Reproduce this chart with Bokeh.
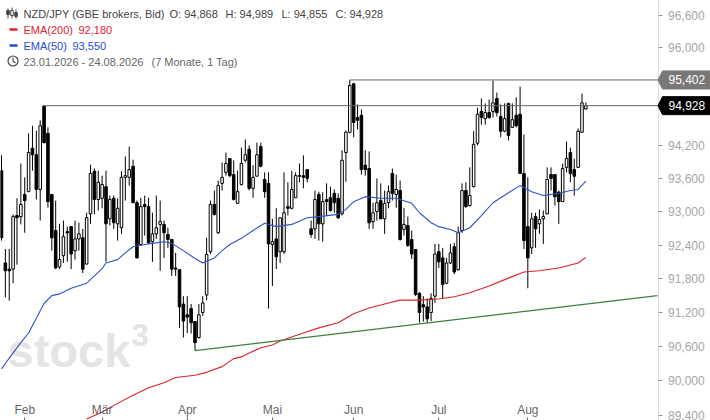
import math
from bokeh.plotting import figure
from bokeh.embed import file_html
from bokeh.resources import INLINE
from bokeh.models import FixedTicker, CustomJSTickFormatter, Label, ColumnDataSource
from bokeh.core.properties import value

highs = [94.02,92.33,92.33,92.95,93.24,93.87,93.62,94.42,94.56,94.47,
94.66,94.93,94.53,93.31,93.20,92.78,92.84,92.73,92.73,92.84,
92.80,92.69,92.98,93.85,93.78,93.74,93.65,93.74,93.29,93.29,
93.24,93.73,94.00,94.18,93.94,93.20,93.25,93.29,93.25,92.98,
93.29,93.20,92.84,92.71,92.50,92.26,91.97,91.49,91.49,91.35,
91.05,91.35,91.49,92.53,93.20,93.38,93.56,93.89,94.07,93.96,
93.93,93.74,94.16,94.31,94.20,93.84,94.25,94.25,93.71,93.71,
92.87,93.06,92.89,93.71,93.53,93.74,93.71,93.87,94.02,93.76,
92.84,93.38,93.36,93.35,93.51,93.45,93.40,93.33,94.11,94.47,
95.402,95.35,94.95,94.86,94.11,94.09,93.16,93.60,93.51,93.38,
93.47,93.78,93.67,93.56,93.07,92.91,92.66,92.33,91.56,91.49,
91.45,91.54,92.42,92.42,92.35,92.17,92.42,92.44,92.73,93.51,
93.53,93.80,94.46,94.89,95.06,94.97,95.04,95.39,95.17,94.95,
94.97,94.98,94.97,95.08,95.28,94.40,93.62,92.98,92.98,93.04,
93.02,93.80,93.80,93.67,93.38,93.87,94.27,94.16,93.96,94.51,
95.15,94.989]
lows = [92.48,91.47,91.41,91.72,92.05,92.77,92.62,93.36,93.74,93.22,
92.84,94.24,93.07,92.30,91.97,91.97,92.08,92.10,91.97,92.14,
92.30,91.90,92.06,92.78,92.95,93.02,93.06,92.10,92.75,92.69,
92.48,92.60,93.20,93.47,93.16,92.17,92.39,92.57,92.42,92.10,
92.51,91.94,92.17,92.35,91.85,91.85,90.93,90.76,90.84,90.83,
90.53,90.74,91.14,91.42,92.24,92.93,92.60,93.38,93.65,93.62,
93.20,93.15,93.47,93.89,93.38,93.25,93.64,93.80,93.25,91.27,
91.67,91.97,92.08,92.24,92.93,93.04,93.25,93.53,93.42,93.53,
92.53,92.51,92.48,92.46,92.93,93.00,92.98,92.87,92.93,93.54,
94.42,94.35,94.49,93.67,93.65,92.69,92.69,92.84,92.87,92.60,
93.06,93.20,93.07,92.48,92.57,92.37,92.15,91.49,91.02,91.04,
91.02,91.05,91.37,91.99,91.45,91.70,92.06,91.88,91.94,92.62,
93.07,93.09,93.44,94.20,94.58,94.58,94.69,94.71,94.73,94.35,
94.44,94.29,94.53,94.53,93.69,92.33,91.63,92.24,92.35,92.60,
92.42,92.96,93.38,93.11,92.78,93.18,93.71,93.53,93.29,93.80,
94.44,94.855]
opens = [93.74,92.08,91.97,91.97,92.93,92.91,93.31,93.36,94.15,94.03,
93.40,94.92,94.42,93.31,92.66,92.01,92.21,92.64,92.73,92.30,
92.51,92.53,92.06,92.96,93.73,93.22,93.24,93.45,92.87,93.24,
92.78,92.71,93.62,93.62,93.82,93.16,92.41,93.13,93.09,92.46,
92.60,92.77,92.77,92.59,92.50,91.99,91.96,91.35,91.16,91.27,
91.04,90.76,91.20,91.51,92.28,93.13,92.62,93.51,93.71,93.96,
93.67,93.15,93.49,93.93,94.13,93.42,93.64,94.18,93.58,93.51,
92.41,92.51,92.28,92.28,93.09,93.06,93.25,93.65,93.65,93.76,
92.69,92.69,93.31,92.78,93.22,93.25,93.33,93.24,92.96,94.07,
94.44,95.33,94.71,94.75,93.84,93.78,92.82,93.00,93.20,92.87,
93.16,93.69,93.31,93.38,92.68,92.75,92.50,92.32,91.54,91.34,
91.30,91.20,91.49,92.28,92.17,91.72,92.08,92.37,91.96,92.66,
93.38,93.11,93.45,94.24,94.82,94.69,94.80,94.82,95.06,94.73,
94.46,94.97,94.53,94.75,94.77,93.69,92.73,92.35,92.91,92.78,
92.87,92.96,93.67,93.67,93.35,93.18,93.80,94.07,93.76,93.80,
94.44,94.868]
closes = [92.53,91.94,91.94,92.91,92.89,93.13,93.20,94.07,94.03,93.40,
94.56,94.25,93.18,92.53,91.99,92.14,92.55,92.62,92.24,92.51,
92.60,91.97,92.89,93.69,93.22,93.53,93.49,92.78,93.22,92.80,
93.06,93.62,93.65,93.76,93.16,92.17,93.09,93.09,92.44,92.60,
92.71,92.82,92.62,92.50,91.97,91.97,91.30,91.05,91.12,91.02,
90.67,91.16,91.37,92.23,93.13,92.95,93.47,93.62,93.87,93.65,
93.22,93.36,93.87,94.03,93.42,93.62,94.03,93.82,93.36,92.42,
92.46,92.19,92.89,92.98,93.06,93.40,93.65,93.64,93.62,93.60,
92.59,93.22,92.78,93.18,93.18,93.02,93.16,92.89,93.93,94.44,
95.30,94.62,94.66,93.76,93.76,92.80,92.98,93.16,92.87,93.15,
93.36,93.33,93.40,92.50,92.77,92.39,92.24,91.52,91.20,91.30,
91.09,91.45,92.24,92.10,91.70,92.08,92.26,91.92,92.62,93.38,
93.09,93.29,94.22,94.77,94.71,94.80,94.71,94.98,94.80,94.46,
94.69,94.38,94.67,94.56,93.69,92.48,92.17,92.87,92.69,92.86,
92.91,93.58,93.60,93.27,93.18,93.78,93.96,93.69,93.64,94.46,
94.98,94.928]

ema50_i = [0,2,5,7,9,11,13,15,18,22,24,26,27,30,32,34,37,39,42,44,47,50,52,55,57,59,62,65,68,71,75,79,82,87,89,91,94,98,102,106,108,111,113,116,118,121,124,127,131,134,137,140,144,147,149,151]
ema50 = [90.21,90.40,90.67,90.84,91.10,91.36,91.50,91.53,91.63,91.72,91.85,91.98,92.08,92.14,92.26,92.37,92.41,92.43,92.46,92.43,92.30,92.16,92.08,92.17,92.30,92.41,92.52,92.66,92.79,92.73,92.77,92.89,92.91,92.95,93.04,93.18,93.27,93.24,93.24,93.15,92.98,92.80,92.73,92.68,92.62,92.71,92.93,93.16,93.34,93.47,93.36,93.29,93.33,93.38,93.40,93.55]
ema200_i = [22,26,30,34,38,42,45,50,53,57,60,62,64,67,70,72,78,82,87,91,95,100,103,108,113,117,121,126,131,135,139,144,149,151]
ema200 = [89.34,89.46,89.61,89.75,89.88,89.97,90.06,90.10,90.15,90.25,90.39,90.42,90.49,90.58,90.63,90.70,90.84,90.93,91.02,91.18,91.28,91.37,91.42,91.42,91.44,91.48,91.55,91.67,91.81,91.92,91.94,91.99,92.08,92.18]
trend_i = [50, 169.5]
trend_p = [90.53, 91.50]
level_high = 95.402
level_last = 94.928
month_ticks = [6, 26, 48, 70, 91, 113, 136]
month_labels = ["Feb", "Mär", "Apr", "Mai", "Jun", "Jul", "Aug"]
price_ticks = [89.4, 90.0, 90.6, 91.2, 91.8, 92.4, 93.0, 93.6, 94.2, 96.0, 96.6]

FONT = "Liberation Sans"
STEP = 3.87
def sx(px): return (px - 1) / STEP
def sy(py): return 96.6 * math.exp(-(py - 15) / 5164)
AXIS_I = sx(657.5)

p = figure(width=710, height=420, output_backend="svg", toolbar_location=None,
           y_axis_type="log", y_axis_location="right",
           x_range=(sx(0), sx(710)), y_range=(sy(420), sy(0)),
           min_border_left=0, min_border_top=0, min_border_bottom=0, min_border_right=0)
p.outline_line_color = None
p.grid.visible = False
p.background_fill_color = "white"
p.border_fill_color = "white"

ya = p.yaxis[0]
ya.fixed_location = AXIS_I
ya.ticker = FixedTicker(ticks=price_ticks)
ya.formatter = CustomJSTickFormatter(code="return tick.toFixed(3).replace('.', ',')")
ya.axis_line_color = "#dcdcdc"
ya.major_tick_line_color = "#9a9a9a"
ya.major_tick_out = 4
ya.major_tick_in = 0
ya.minor_tick_line_color = None
ya.major_label_standoff = 6
ya.major_label_text_color = "#a6a6a6"
ya.major_label_text_font = FONT
ya.major_label_text_font_size = "12px"

xa = p.xaxis[0]
xa.ticker = FixedTicker(ticks=month_ticks)
xa.major_label_overrides = dict(zip(month_ticks, month_labels))
xa.axis_line_color = None
xa.major_tick_line_color = "#666666"
xa.major_tick_in = 3
xa.major_tick_out = 0
xa.minor_tick_line_color = None
xa.major_label_standoff = -18
xa.major_label_text_color = "#666666"
xa.major_label_text_font = FONT
xa.major_label_text_font_size = "12px"

# watermark
p.text([sx(7)], [sy(350)], text=["stock"], text_font=value(FONT), text_font_style="bold",
       text_font_size="47px", text_color="#e4e4e4", text_baseline="alphabetic", text_align="left")
p.text([sx(131)], [sy(334)], text=["3"], text_font=value(FONT), text_font_style="bold",
       text_font_size="31px", text_color="#e4e4e4", text_baseline="alphabetic", text_align="left")

idx = list(range(len(opens)))
src = ColumnDataSource(dict(x=idx, o=opens, h=highs, l=lows, c=closes,
                            fill=["white" if c >= o else "black" for o, c in zip(opens, closes)]))
p.segment("x", "h", "x", "l", source=src, line_color="black", line_width=1)
p.vbar(x="x", top="o", bottom="c", width=0.66, source=src, fill_color="fill", line_color="black", line_width=1)

p.line(ema200_i, ema200, line_color="#d8232a", line_width=1.1)
p.line(ema50_i, ema50, line_color="#2f52c9", line_width=1.1)
p.line(trend_i, trend_p, line_color="#3f7f3f", line_width=1.1)
p.line([11, AXIS_I], [level_last, level_last], line_color="#666666", line_width=1)
p.line([90, AXIS_I], [level_high, level_high], line_color="#666666", line_width=1)

def flag(price, color, txt):
    base = -5164 * math.log(price / 96.6) + 15
    p.patch([AXIS_I, sx(662), sx(711), sx(711), sx(662)],
            [price, sy(base - 9), sy(base - 9), sy(base + 9), sy(base + 9)],
            fill_color=color, line_color=color, level="overlay")
    p.add_layout(Label(x=sx(668), y=price, text=txt, text_color="white", text_font=FONT,
                       text_font_size="12px", text_baseline="middle", level="overlay"))
flag(level_high, "#7a7876", "95,402")
flag(level_last, "#000000", "94,928")

def lab(px, py, txt, color):
    p.add_layout(Label(x=sx(px), y=sy(py), text=txt, text_color=color, text_font=FONT,
                       text_font_size="11px", text_baseline="middle"))
lab(23, 13, "NZD/JPY (GBE brokers, Bid)", "#444444")
lab(169, 13, "O: 94,868", "#444444")
lab(225, 13, "H: 94,989", "#444444")
lab(281, 13, "L: 94,855", "#444444")
lab(335, 13, "C: 94,928", "#444444")
lab(23, 29, "EMA(200)", "#e2232e")
lab(78, 29, "92,180", "#e2232e")
lab(23, 45, "EMA(50)", "#2a4bd7")
lab(72, 45, "93,550", "#2a4bd7")
lab(23, 61, "23.01.2026 - 24.08.2026", "#666666")
lab(151, 61, "(7 Monate, 1 Tag)", "#666666")

# legend dashes and icons
p.segment([sx(9), sx(9)], [sy(29), sy(45)], [sx(17), sx(17)], [sy(29), sy(45)],
          line_color=["#e2232e", "#2a4bd7"], line_width=2.5)
p.circle([sx(12.5)], [sy(60.5)], radius=5, radius_units="screen", fill_color=None, line_color="#444444", line_width=1.2)
p.segment([sx(12.5), sx(12.5)], [sy(57), sy(60.5)], [sx(12.5), sx(15)], [sy(60.5), sy(62.5)],
          line_color="#444444", line_width=1.1)
p.segment([sx(7.5), sx(11.5), sx(15.5)], [sy(8), sy(7), sy(9)], [sx(7.5), sx(11.5), sx(15.5)], [sy(18), sy(18), sy(18)],
          line_color="#444444", line_width=1)
p.vbar(x=[sx(7.5), sx(11.5), sx(15.5)], top=[sy(10), sy(10), sy(12)], bottom=[sy(14), sy(15), sy(16)],
       width=0.65, fill_color=["#444444", "white", "#444444"], line_color="#444444", line_width=1)

html = file_html(p, INLINE)
html = html.replace("<head>", "<head><style>html,body{margin:0;padding:0}</style>", 1)
open("out.html", "w").write(html)
